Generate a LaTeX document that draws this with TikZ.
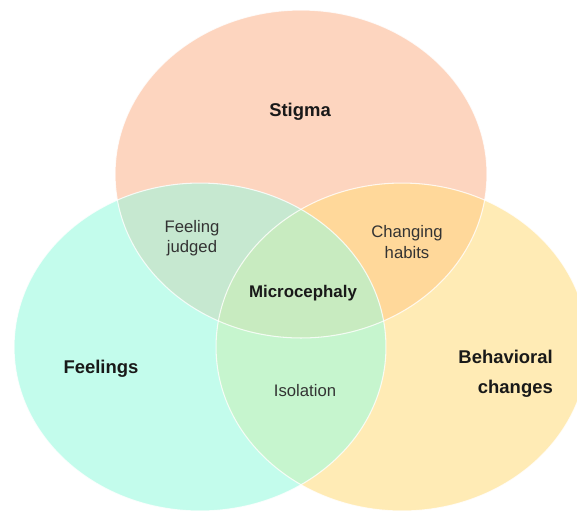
\documentclass[tikz,border=0pt]{standalone}
\usepackage{fontspec}
\setmainfont{Liberation Sans}

\definecolor{stigmacol}{HTML}{FDD5BF}
\definecolor{feelcol}{HTML}{C3FCEC}
\definecolor{behavcol}{HTML}{FFEBB5}
\definecolor{judgedcol}{HTML}{C6E8D0}
\definecolor{habitscol}{HTML}{FFD89A}
\definecolor{isolcol}{HTML}{C6F5CE}
\definecolor{microcol}{HTML}{C8EBC0}

\begin{document}
\begin{tikzpicture}[x=0.02cm, y=-0.02cm,
  setlabel/.style={font=\fontsize{10.5}{17}\selectfont\bfseries, text=black!90},
  sublabel/.style={font=\fontsize{9.5}{11.5}\selectfont, text=black!80, align=center}]
  \useasboundingbox (0,0) rectangle (577,512);
  \clip (0,0) rectangle (577,512);

  % the three sets
  \fill[stigmacol] (301,174) ellipse [x radius=3.72cm, y radius=3.28cm];
  \fill[feelcol] (200,347) ellipse [x radius=3.72cm, y radius=3.28cm];
  \fill[behavcol] (402,347) ellipse [x radius=3.72cm, y radius=3.28cm];

  % pairwise overlaps
  \begin{scope}
    \clip (301,174) ellipse [x radius=3.72cm, y radius=3.28cm];
    \fill[judgedcol] (200,347) ellipse [x radius=3.72cm, y radius=3.28cm];
    \fill[habitscol] (402,347) ellipse [x radius=3.72cm, y radius=3.28cm];
  \end{scope}
  \begin{scope}
    \clip (200,347) ellipse [x radius=3.72cm, y radius=3.28cm];
    \fill[isolcol] (402,347) ellipse [x radius=3.72cm, y radius=3.28cm];
  \end{scope}

  % middle, all three
  \begin{scope}
    \clip (301,174) ellipse [x radius=3.72cm, y radius=3.28cm];
    \clip (200,347) ellipse [x radius=3.72cm, y radius=3.28cm];
    \fill[microcol] (402,347) ellipse [x radius=3.72cm, y radius=3.28cm];
  \end{scope}

  % thin white rims
  \draw[white, opacity=0.8, line width=0.6pt] (301,174) ellipse [x radius=3.72cm, y radius=3.28cm];
  \draw[white, opacity=0.8, line width=0.6pt] (200,347) ellipse [x radius=3.72cm, y radius=3.28cm];
  \draw[white, opacity=0.8, line width=0.6pt] (402,347) ellipse [x radius=3.72cm, y radius=3.28cm];

  % labels
  \node[setlabel] (stigma) at (300,112) {Stigma};
  \node[setlabel] (feelings) at (101,369) {Feelings};
  \node[setlabel, align=right, anchor=east] (behav) at (559,374) {Behavioral\\changes};
  \node[setlabel, font=\fontsize{9.6}{12}\selectfont\bfseries] (micro) at (303,293) {Microcephaly};
  \node[sublabel] (judged) at (192,238) {Feeling\\judged};
  \node[sublabel] (habits) at (407,242) {Changing\\habits};
  \node[sublabel] (isol) at (305,391) {Isolation};
\end{tikzpicture}
\end{document}
